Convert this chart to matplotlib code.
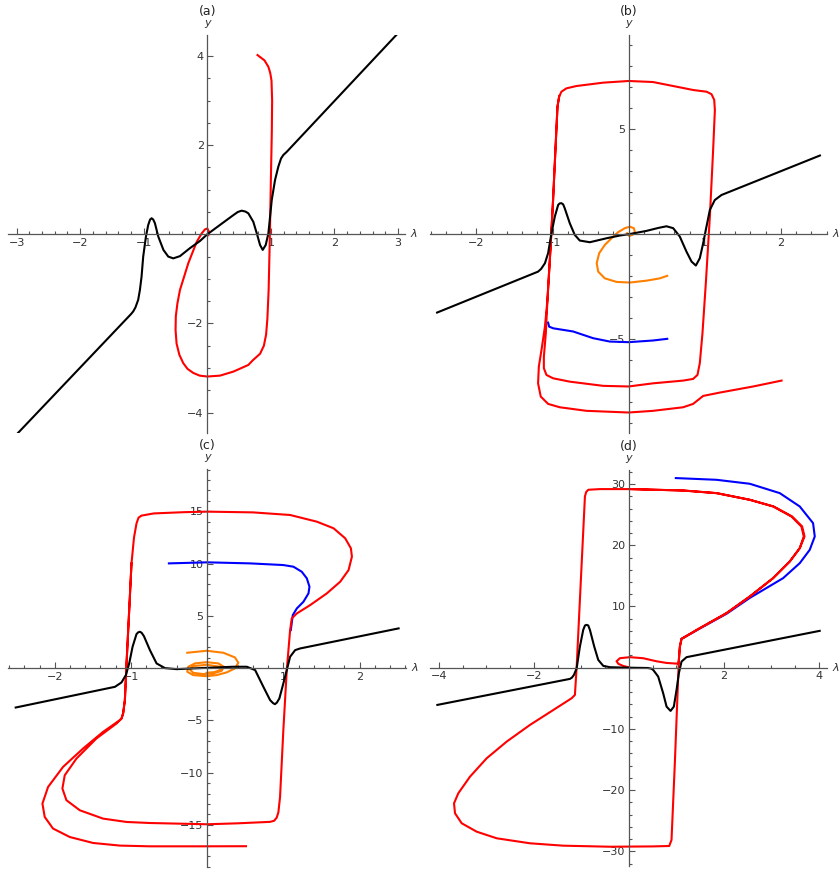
"""
Four phase-portrait panels (a)-(d): y versus lambda with
black reference curve and red / blue / orange trajectories.
"""

import matplotlib
matplotlib.use("Agg")
import matplotlib.pyplot as plt
from matplotlib.ticker import FixedLocator, MultipleLocator

# ---------------------------------------------------------------------------
# Data
# ---------------------------------------------------------------------------
# panel (a)
a_black_x = [-2.98, -1.2, -1.165, -1.13, -1.087, -1.06, -1.034, -1.008, -0.965, -0.929,
             -0.9, -0.876, -0.85, -0.824, -0.771, -0.69, -0.614, -0.535, -0.43, -0.272,
             -0.115, 0.0, 0.2, 0.41, 0.48, 0.541, 0.6, 0.646, 0.724, 0.787, 0.83, 0.872,
             0.919, 0.961, 1.014, 1.066, 1.118, 1.16, 1.197, 1.25, 2.98]
a_black_y = [-4.46, -1.79, -1.73, -1.64, -1.47, -1.25, -0.95, -0.50, -0.05, 0.21,
             0.33, 0.36, 0.33, 0.25, -0.05, -0.35, -0.50, -0.54, -0.49, -0.31,
             -0.15, 0.0, 0.21, 0.43, 0.50, 0.53, 0.51, 0.47, 0.28, -0.02, -0.24, -0.35,
             -0.24, 0.02, 0.77, 1.22, 1.52, 1.70, 1.78, 1.85, 4.48]
a_red_x = [0.79, 0.9, 0.96, 0.99, 1.01, 1.02, 1.015, 1.0, 0.985, 0.965, 0.945, 0.925,
           0.89, 0.83, 0.72, 0.646, 0.41, 0.2, 0.0, -0.12, -0.22, -0.31, -0.378, -0.44,
           -0.483, -0.499, -0.495, -0.47, -0.43, -0.299, -0.167, -0.088, -0.036, 0.0,
           0.026, 0.016]
a_red_y = [4.02, 3.9, 3.76, 3.62, 3.45, 3.0, 2.3, 1.2, 0.0, -1.25, -1.9, -2.25,
           -2.5, -2.68, -2.82, -2.93, -3.08, -3.17, -3.19, -3.17, -3.11, -3.02, -2.89, -2.7,
           -2.45, -2.15, -1.84, -1.55, -1.25, -0.65, -0.17, 0.02, 0.11, 0.13,
           0.06, -0.02]

# panel (b)
b_black_x = [-2.517, -1.19, -1.15, -1.10, -1.058, -1.014, -0.97, -0.926, -0.905, -0.883,
             -0.86, -0.84, -0.773, -0.708, -0.642, -0.51, -0.29, -0.116, 0.0, 0.234,
             0.388, 0.497, 0.585, 0.672, 0.76, 0.826, 0.883, 0.935, 0.979, 1.014, 1.067,
             1.132, 1.22, 2.513]
b_black_y = [-3.73, -1.78, -1.65, -1.38, -0.90, 0.05, 0.84, 1.40, 1.47, 1.48,
             1.42, 1.24, 0.52, -0.03, -0.30, -0.38, -0.19, -0.06, 0.0, 0.16,
             0.30, 0.38, 0.29, -0.11, -0.83, -1.30, -1.49, -1.14, -0.43, 0.21, 1.16,
             1.63, 1.87, 3.75]
b_red_x = [2.009, 1.636, 1.198, 0.979, 0.913, 0.847, 0.716, 0.32, 0.0, -0.554, -0.905,
           -1.058, -1.155, -1.19, -1.18, -1.145, -1.10, -1.067, -1.028, -0.993, -0.962,
           -0.935, -0.913, -0.883, -0.817, -0.686, -0.335, 0.0, 0.32, 0.585, 0.848, 1.023,
           1.089, 1.124, 1.133, 1.11, 1.067, 1.014, 0.97, 0.935, 0.904, 0.847, 0.716, 0.32,
           0.0, -0.335, -0.773, -0.993, -1.08, -1.114, -1.114, -1.088, -1.067, -1.028,
           -0.993, -0.962, -0.935, -0.913]
b_red_y = [-6.97, -7.25, -7.54, -7.70, -7.89, -8.08, -8.24, -8.41, -8.49, -8.41, -8.24,
           -8.08, -7.73, -7.10, -6.30, -5.51, -4.40, -3.13, -0.75, 1.63, 4.02,
           6.08, 6.56, 6.79, 6.95, 7.06, 7.22, 7.30, 7.25, 7.06, 6.87, 6.79,
           6.67, 6.40, 5.92, 4.02, 0.84, -2.33, -4.71, -6.14, -6.70, -6.89, -6.97, -7.10,
           -7.25, -7.22, -7.02, -6.86, -6.70, -6.38, -5.83, -4.71, -3.13, -0.75,
           1.63, 4.02, 6.08, 6.56]
b_blue_x = [-1.058, -1.045, -0.99, -0.73, -0.467, -0.248, 0.0, 0.32, 0.507]
b_blue_y = [-4.21, -4.40, -4.48, -4.63, -4.95, -5.11, -5.14, -5.06, -4.98]
b_orange_x = [0.507, 0.41, 0.235, 0.016, -0.159, -0.313, -0.40, -0.42, -0.387, -0.313,
              -0.225, -0.138, -0.05, 0.016, 0.068, 0.081, 0.051, 0.007, -0.02]
b_orange_y = [-1.98, -2.10, -2.21, -2.30, -2.27, -2.10, -1.78, -1.38, -0.90, -0.51,
              -0.19, 0.10, 0.29, 0.36, 0.29, 0.12, -0.03, -0.08, 0.05]

# panel (c)
c_black_x = [-2.513, -1.21, -1.124, -1.067, -1.023, -0.979, -0.927, -0.905, -0.883, -0.86,
             -0.83, -0.751, -0.664, -0.554, -0.40, -0.094, 0.344, 0.52, 0.63, 0.738,
             0.826, 0.865, 0.89, 0.915, 0.948, 1.0, 1.045, 1.089, 1.155, 1.22, 2.513]
c_black_y = [-3.77, -1.79, -1.37, -0.67, 0.45, 2.04, 3.26, 3.42, 3.48, 3.38,
             3.06, 1.72, 0.45, 0.0, -0.1, 0.0, 0.13, 0.13, -0.19, -1.79,
             -3.06, -3.35, -3.45, -3.3, -2.90, -1.47, -0.19, 1.09, 1.72, 1.88, 3.80]
c_red_x = [0.51, -0.094, -0.752, -1.146, -1.497, -1.803, -2.023, -2.132, -2.162, -2.088,
           -1.891, -1.628, -1.366, -1.146, -1.124, -1.103, -1.08, -1.058, -1.02, -0.993,
           -0.96, -0.927, -0.9, -0.861, -0.7, -0.3, 0.0, 0.6, 1.089, 1.44, 1.659, 1.812,
           1.887, 1.90, 1.856, 1.747, 1.571, 1.352, 1.177, 1.111, 1.089, 1.045, 1.0, 0.957,
           0.935, 0.913, 0.88, 0.826, 0.4, 0.0, -0.752, -1.058, -1.366, -1.672, -1.847,
           -1.90, -1.869, -1.715, -1.453, -1.19, -1.124, -1.103, -1.08, -1.058, -1.02,
           -0.993]
c_red_y = [-17.04, -17.05, -17.05, -16.98, -16.73, -16.16, -15.35, -14.24, -12.96, -11.37,
           -9.45, -7.69, -6.1, -4.98, -4.82, -4.34, -3.07, 0.45, 6.0, 10.02,
           12.5, 13.85, 14.4, 14.59, 14.8, 14.92, 14.97, 14.9, 14.65, 14.01, 13.38, 12.42,
           11.46, 10.66, 9.38, 8.27, 7.15, 6.03, 5.23, 4.76, 3.64, -0.19, -5.94, -12.32,
           -13.8, -14.3, -14.6, -14.71, -14.85, -14.94, -14.82, -14.72, -14.40, -13.60, -12.64,
           -11.52, -10.25, -8.65, -6.73, -5.30, -4.82, -4.34, -3.07, 0.45, 6.0,
           10.02]
c_blue_x = [-0.502, 0.0, 0.563, 1.0, 1.133, 1.242, 1.308, 1.343, 1.33, 1.264, 1.177,
            1.124, 1.098]
c_blue_y = [10.02, 10.12, 10.02, 9.86, 9.70, 9.22, 8.59, 7.79, 7.15, 6.35, 5.71,
            5.07, 3.64]
c_orange_x = [-0.261, -0.007, 0.212, 0.365, 0.409, 0.365, 0.256, 0.125, -0.007, -0.183,
              -0.261, -0.248, -0.16, -0.007, 0.146, 0.22, 0.19, 0.08, -0.05, -0.183,
              -0.227, -0.183, -0.007, 0.168, 0.19, 0.1, -0.007]
c_orange_y = [1.47, 1.66, 1.47, 1.02, 0.51, -0.03, -0.41, -0.67, -0.77, -0.67,
              -0.35, 0.13, 0.45, 0.57, 0.45, 0.13, -0.26, -0.51, -0.57, -0.45,
              -0.12, 0.19, 0.32, 0.13, -0.12, -0.38, -0.45]

# panel (d)
d_black_x = [-4.035, -1.242, -1.2, -1.158, -1.10, -1.06, -1.032, -0.962, -0.925, -0.891,
             -0.856, -0.821, -0.73, -0.646, -0.54, -0.40, 0.0, 0.40, 0.47, 0.512, 0.617,
             0.722, 0.794, 0.878, 0.947, 1.004, 1.053, 1.109, 1.215, 4.02]
d_black_y = [-6.08, -1.83, -1.62, -1.18, -0.09, 2.0, 3.45, 6.18, 6.9, 7.0,
             6.9, 6.18, 3.45, 1.28, 0.30, 0.08, 0.0, -0.05, -0.15, -0.36, -1.45,
             -4.17, -6.36, -7.06, -6.36, -3.63, -0.90, 1.0, 1.72, 6.02]
d_red_x = [0.0, -0.12, -0.22, -0.26, -0.19, 0.02, 0.30, 0.58, 0.79, 1.039, 1.053, 1.074,
           1.109, 1.495, 2.056, 2.547, 3.038, 3.389, 3.6, 3.684, 3.635, 3.425, 3.038, 2.547,
           1.846, 1.144, 0.02, -0.61, -0.856, -0.9, -0.926, -1.032, -1.10, -1.137, -1.206,
           -1.59, -2.084, -2.575, -2.996, -3.347, -3.594, -3.684, -3.663, -3.522, -3.207,
           -2.786, -2.084, -1.383, -0.40, 0.5, 0.85, 0.898, 0.968, 1.039, 1.053, 1.074,
           1.109, 1.495, 2.056, 2.547, 3.038, 3.389, 3.6, 3.70, 3.65, 3.44, 3.05, 2.55,
           1.85, 1.144, 0.02]
d_red_y = [0.05, 0.29, 0.62, 1.05, 1.55, 1.72, 1.55, 1.05, 0.78, 0.65, 1.28, 3.45,
           4.71, 6.46, 8.91, 11.63, 14.63, 17.35, 19.53, 21.44, 23.07, 24.70, 26.34, 27.43,
           28.52, 28.95, 29.18, 29.18, 29.07, 28.7, 27.98, 11.08, 0.18, -4.45, -4.99,
           -6.9, -9.35, -12.08, -14.80, -17.80, -20.52, -22.16, -23.79, -25.42, -26.79,
           -27.87, -28.69, -29.08, -29.25, -29.2, -29.13, -28.15, -15.61, -1.45, 1.28, 3.45,
           4.71, 6.46, 8.91, 11.63, 14.63, 17.35, 19.53, 21.44, 23.07, 24.70, 26.34, 27.43,
           28.52, 28.95, 29.18]
d_blue_x = [0.989, 1.846, 2.547, 3.179, 3.6, 3.88, 3.916, 3.81, 3.6, 3.249, 2.547, 2.056,
            1.495, 1.109]
d_blue_y = [30.98, 30.70, 30.05, 28.52, 26.34, 23.62, 21.44, 19.26, 17.08, 14.63, 11.4,
            8.8, 6.4, 4.71]

RED = "#ff0000"
BLUE = "#0000ff"
ORANGE = "#ff8000"
AXIS_COLOR = "#555555"
LW = 1.5

W, H = 840, 871


def add_panel(left, right, top, bottom, xlim, ylim):
    """Axes placed by pixel edges of its axis lines."""
    rect = [left / W, (H - bottom) / H, (right - left) / W, (bottom - top) / H]
    ax = fig.add_axes(rect)
    ax.set_xlim(xlim)
    ax.set_ylim(ylim)
    ax.patch.set_visible(False)
    for s in ("top", "right"):
        ax.spines[s].set_visible(False)
    for s in ("left", "bottom"):
        ax.spines[s].set_position(("data", 0))
        ax.spines[s].set_color(AXIS_COLOR)
        ax.spines[s].set_linewidth(0.9)
    return ax


def style_ticks(ax, xmaj, xminor, ymaj, yminor, label):
    ax.xaxis.set_major_locator(FixedLocator(xmaj))
    ax.xaxis.set_minor_locator(MultipleLocator(xminor))
    ax.yaxis.set_major_locator(FixedLocator(ymaj))
    ax.yaxis.set_minor_locator(MultipleLocator(yminor))
    ax.tick_params(which="both", direction="in", color=AXIS_COLOR, width=0.8,
                   labelsize=8, labelcolor="#333333")
    ax.tick_params(which="major", length=4, pad=2.5)
    ax.tick_params(which="minor", length=2.2)
    ax.annotate(label, xy=(0, 1), xycoords=("data", "axes fraction"),
                xytext=(0, 17), textcoords="offset points",
                ha="center", va="center", fontsize=9, color="#222222")
    ax.annotate("y", xy=(0, 1), xycoords=("data", "axes fraction"),
                xytext=(0, 9), textcoords="offset points",
                ha="center", va="center", fontsize=8, style="italic", color="#333333")
    ax.annotate("λ", xy=(1, 0), xycoords=("axes fraction", "data"),
                xytext=(6, 0), textcoords="offset points",
                ha="center", va="center", fontsize=8, style="italic", color="#333333")


fig = plt.figure(figsize=(W / 100, H / 100), dpi=100)

# (a)
ax = add_panel(8.3, 405, 35, 432.7, (-3.13, 3.11), (-4.45, 4.47))
ax.plot(a_red_x, a_red_y, color=RED, lw=LW)
ax.plot(a_black_x, a_black_y, color="black", lw=LW)
style_ticks(ax, [-3, -2, -1, 1, 2, 3], 0.2, [-4, -2, 2, 4], 0.5, "(a)")

# (b)
ax = add_panel(430, 827.3, 35, 433.3, (-2.61, 2.61), (-9.48, 9.49))
ax.plot(b_red_x, b_red_y, color=RED, lw=LW)
ax.plot(b_blue_x, b_blue_y, color=BLUE, lw=LW)
ax.plot(b_orange_x, b_orange_y, color=ORANGE, lw=LW)
ax.plot(b_black_x, b_black_y, color="black", lw=LW)
style_ticks(ax, [-2, -1, 1, 2], 0.2, [-5, 5], 1, "(b)")

# (c)
ax = add_panel(8.3, 406, 469, 866.7, (-2.61, 2.61), (-19.0, 19.05))
ax.plot(c_blue_x, c_blue_y, color=BLUE, lw=LW)
ax.plot(c_red_x, c_red_y, color=RED, lw=LW)
ax.plot(c_orange_x, c_orange_y, color=ORANGE, lw=LW)
ax.plot(c_black_x, c_black_y, color="black", lw=LW)
style_ticks(ax, [-2, -1, 1, 2], 0.2, [-15, -10, -5, 5, 10, 15], 1, "(c)")

# (d)
ax = add_panel(430, 827.3, 470, 866, (-4.19, 4.18), (-32.4, 32.3))
ax.plot(d_blue_x, d_blue_y, color=BLUE, lw=LW)
ax.plot(d_red_x, d_red_y, color=RED, lw=LW)
ax.plot(d_black_x, d_black_y, color="black", lw=LW)
style_ticks(ax, [-4, -2, 2, 4], 0.5, [-30, -20, -10, 10, 20, 30], 2, "(d)")

fig.savefig("out.png", dpi=100)
plt.close(fig)
